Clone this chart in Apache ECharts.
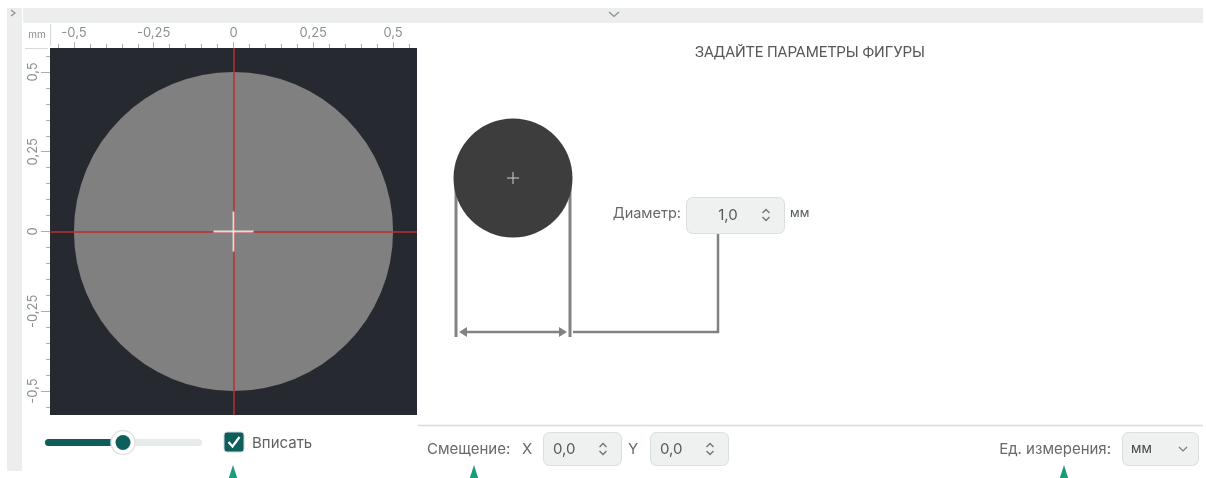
<!DOCTYPE html>
<html><head><meta charset="utf-8">
<script src="https://cdn.jsdelivr.net/npm/echarts@6/dist/echarts.min.js"></script>
<style>html,body{margin:0;padding:0;background:#fff;}#c{width:1206px;height:478px;}</style>
</head><body><div id="c"></div>
<script>
// ---- data ----
const axisRange = [-0.575, 0.575];
const majorTicks = [-0.5, -0.25, 0, 0.25, 0.5];
const minorTicks = [-0.55, -0.5, -0.45, -0.4, -0.35, -0.3, -0.25, -0.2, -0.15, -0.1, -0.05, 0,
                    0.05, 0.1, 0.15, 0.2, 0.25, 0.3, 0.35, 0.4, 0.45, 0.5, 0.55];
const axisUnit = 'mm';
const circleDiameter = 1.0;
const offsetX = 0.0;
const offsetY = 0.0;
const unitLabel = 'мм';
const title = 'ЗАДАЙТЕ ПАРАМЕТРЫ ФИГУРЫ';
const labels = { diameter: 'Диаметр:', offset: 'Смещение:', x: 'X', y: 'Y', units: 'Ед. измерения:', fit: 'Вписать' };

const fmt = v => String(v).replace('.', ',');
const fmt1 = v => v.toFixed(1).replace('.', ',');

const FONT = 'Inter, "Noto Sans", sans-serif';
const tickColor = '#a9b2af';
const labelColor = '#8b9190';
const teal = '#0e5f5c';
const green = '#1a9c78';

function axisPair(dim) {
  const isX = dim === 'x';
  const base = {
    type: 'value', min: axisRange[0], max: axisRange[1],
    position: isX ? 'top' : 'left',
    axisLine: { show: false, onZero: false }, splitLine: { show: false },
  };
  return [
    Object.assign({}, base, {
      axisTick: { show: true, customValues: majorTicks, length: isX ? 6 : 9, lineStyle: { color: tickColor, width: 1 } },
      axisLabel: { show: true, customValues: majorTicks, formatter: fmt, color: labelColor, fontSize: 13,
                   fontFamily: FONT, margin: isX ? 8 : 10, rotate: isX ? 0 : 90 }
    }),
    Object.assign({}, base, {
      axisTick: { show: true, customValues: minorTicks, length: 4, lineStyle: { color: tickColor, width: 1 } },
      axisLabel: { show: false }
    })
  ];
}

function spinner(x, y) {
  return [
    { type: 'polyline', shape: { points: [[x - 3.5, y - 2], [x, y - 5.5], [x + 3.5, y - 2]] }, style: { stroke: '#707574', lineWidth: 1.3, fill: null } },
    { type: 'polyline', shape: { points: [[x - 3.5, y + 2], [x, y + 5.5], [x + 3.5, y + 2]] }, style: { stroke: '#707574', lineWidth: 1.3, fill: null } }
  ];
}
function txt(text, x, y, opt) {
  opt = opt || {};
  const align = opt.align || 'left';
  return { type: 'text', style: Object.assign({
    text, x, y, fill: opt.fill || '#666a69', font: (opt.size || 15) + 'px ' + (opt.family || FONT),
    align, textAlign: align, verticalAlign: 'middle', textVerticalAlign: 'middle'
  }, opt.extra || {}) };
}
function box(x, y, w, h) {
  return { type: 'rect', shape: { x, y, width: w, height: h, r: 6 }, style: { fill: '#eef1f0', stroke: '#d8dfdc', lineWidth: 1 } };
}
function tri(x) {
  return { type: 'polygon', shape: { points: [[x - 4.5, 479], [x + 4.5, 479], [x, 465]] }, style: { fill: green } };
}
const gray = '#828282';

const graphics = [
  // frame strips
  { type: 'rect', shape: { x: 7, y: 8, width: 15, height: 463 }, style: { fill: '#eceeed' } },
  { type: 'rect', shape: { x: 23, y: 8, width: 1180, height: 15 }, style: { fill: '#eceeed' } },
  { type: 'polyline', shape: { points: [[11, 10], [15, 13], [11, 16]] }, style: { stroke: '#8a8f8e', lineWidth: 1.2, fill: null } },
  { type: 'polyline', shape: { points: [[609, 12], [614, 16.5], [619, 12]] }, style: { stroke: '#8a8f8e', lineWidth: 1.3, fill: null } },
  // ruler corner
  txt(axisUnit, 37, 35, { size: 10, fill: '#8b9190', align: 'center' }),
  { type: 'line', shape: { x1: 50.5, y1: 24, x2: 50.5, y2: 46 }, style: { stroke: '#d6dbd9', lineWidth: 1 } },
  { type: 'line', shape: { x1: 25, y1: 48.5, x2: 48, y2: 48.5 }, style: { stroke: '#d6dbd9', lineWidth: 1 } },
  // slider
  { type: 'rect', shape: { x: 45, y: 439, width: 157, height: 7, r: 3.5 }, style: { fill: '#e6ebe9' } },
  { type: 'rect', shape: { x: 45, y: 439, width: 80, height: 7, r: 3.5 }, style: { fill: teal } },
  { type: 'circle', shape: { cx: 123, cy: 442.5, r: 12 }, style: { fill: '#ffffff', stroke: '#dfe5e3', lineWidth: 1.5 } },
  { type: 'circle', shape: { cx: 123, cy: 442.5, r: 7.5 }, style: { fill: teal } },
  // checkbox
  { type: 'rect', shape: { x: 224, y: 432, width: 20, height: 20, r: 3 }, style: { fill: teal, stroke: '#d0dad7', lineWidth: 1 } },
  { type: 'polyline', shape: { points: [[228.5, 442], [232.5, 446.5], [239.5, 437]] }, style: { stroke: '#ffffff', lineWidth: 2.2, fill: null } },
  txt(labels.fit, 252, 443, { fill: '#5e6362' }),
  // separator
  { type: 'line', shape: { x1: 418, y1: 425.5, x2: 1203, y2: 425.5 }, style: { stroke: '#d4ddda', lineWidth: 1.5 } },
  // offset inputs
  txt(labels.offset, 427, 449, { fill: '#666a69' }),
  txt(labels.x, 527, 449, { fill: '#666a69', align: 'center' }),
  box(543.5, 432.5, 78, 33),
  txt(fmt1(offsetX), 553, 449, { fill: '#555958' }),
  ...spinner(603, 449),
  txt(labels.y, 633, 449, { fill: '#666a69', align: 'center' }),
  box(650.5, 432.5, 78, 33),
  txt(fmt1(offsetY), 660, 449, { fill: '#555958' }),
  ...spinner(710, 449),
  // units select
  txt(labels.units, 1111, 449, { fill: '#666a69', align: 'right' }),
  box(1122.5, 432.5, 76, 33),
  txt(unitLabel, 1131, 449, { fill: '#444848', size: 13.5 }),
  { type: 'polyline', shape: { points: [[1179, 447], [1183, 451], [1187, 447]] }, style: { stroke: '#7a7f7e', lineWidth: 1.2, fill: null } },
  // markers
  tri(233), tri(474), tri(1064),
  // title
  txt(title, 810, 53, { size: 15, fill: '#555958', align: 'center', family: 'Roboto, sans-serif' }),
  // schematic
  { type: 'line', shape: { x1: 456, y1: 172, x2: 456, y2: 337 }, style: { stroke: gray, lineWidth: 3 } },
  { type: 'line', shape: { x1: 570, y1: 172, x2: 570, y2: 337 }, style: { stroke: gray, lineWidth: 3 } },
  { type: 'circle', shape: { cx: 513, cy: 178, r: 59.5 }, style: { fill: '#3d3d3d' } },
  { type: 'line', shape: { x1: 507, y1: 178, x2: 519, y2: 178 }, style: { stroke: '#bbbbbb', lineWidth: 1.2 } },
  { type: 'line', shape: { x1: 513, y1: 172, x2: 513, y2: 184 }, style: { stroke: '#bbbbbb', lineWidth: 1.2 } },
  { type: 'line', shape: { x1: 463, y1: 332, x2: 563, y2: 332 }, style: { stroke: gray, lineWidth: 2.5 } },
  { type: 'polygon', shape: { points: [[459, 332], [467, 327], [467, 337]] }, style: { fill: gray } },
  { type: 'polygon', shape: { points: [[567, 332], [559, 327], [559, 337]] }, style: { fill: gray } },
  { type: 'polyline', shape: { points: [[573, 332], [718, 332], [718, 233]] }, style: { stroke: gray, lineWidth: 2.5, fill: null } },
  txt(labels.diameter, 681, 214, { fill: '#666a69', align: 'right', size: 14.5 }),
  box(686.5, 197.5, 98, 36),
  txt(fmt1(circleDiameter), 728, 215, { fill: '#555958', align: 'center' }),
  ...spinner(766, 215),
  txt(unitLabel, 790, 213, { fill: '#555958', size: 12.5 }),
];

const chart = echarts.init(document.getElementById('c'), null, { renderer: 'canvas' });
const xs = axisPair('x'), ys = axisPair('y');
chart.setOption({
  animation: false,
  backgroundColor: '#ffffff',
  grid: { left: 50, top: 48, width: 367, height: 367, show: true, backgroundColor: '#262a30', borderWidth: 0,
          containLabel: false, outerBoundsMode: 'none' },
  xAxis: xs,
  yAxis: ys,
  graphic: { elements: graphics },
  series: [
    {
      type: 'custom', xAxisIndex: 0, yAxisIndex: 0, z: 2, silent: true,
      data: [[offsetX, offsetY, circleDiameter]],
      renderItem: (params, api) => {
        const c = api.coord([api.value(0), api.value(1)]);
        const r = api.size([api.value(2) / 2, 0])[0];
        return { type: 'circle', shape: { cx: c[0], cy: c[1], r }, style: { fill: '#808080' } };
      },
      markLine: {
        silent: true, symbol: ['none', 'none'], label: { show: false },
        lineStyle: { color: '#b8302f', width: 1.5, type: 'solid', opacity: 1 },
        emphasis: { disabled: true },
        data: [{ xAxis: offsetX }, { yAxis: offsetY }]
      }
    },
    {
      type: 'custom', xAxisIndex: 0, yAxisIndex: 0, z: 10, silent: true,
      data: [[offsetX, offsetY]],
      renderItem: (params, api) => {
        const c = api.coord([api.value(0), api.value(1)]);
        return { type: 'group', children: [
          { type: 'line', shape: { x1: c[0] - 20, y1: c[1], x2: c[0] + 20, y2: c[1] }, style: { stroke: 'rgba(240,235,235,0.9)', lineWidth: 1.8 } },
          { type: 'line', shape: { x1: c[0], y1: c[1] - 20, x2: c[0], y2: c[1] + 20 }, style: { stroke: 'rgba(240,235,235,0.9)', lineWidth: 1.8 } }
        ] };
      }
    }
  ]
});
</script></body></html>
